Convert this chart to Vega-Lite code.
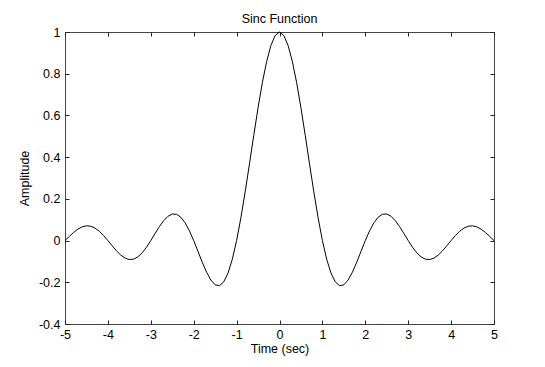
{
  "$schema": "https://vega.github.io/schema/vega-lite/v6.json",
  "width": 429,
  "height": 292,
  "autosize": "none",
  "padding": {"left": 65, "top": 32, "right": 51, "bottom": 43},
  "background": "white",
  "config": {
    "view": {"stroke": "#444", "strokeWidth": 1},
    "font": "Liberation Sans",
    "axis": {
      "domain": false,
      "grid": false,
      "tickSize": -4,
      "tickColor": "#222",
      "labelFont": "Liberation Sans",
      "labelFontSize": 12.5,
      "labelColor": "#000",
      "titleFont": "Liberation Sans",
      "titleFontSize": 12.5,
      "titleFontWeight": "normal",
      "titleColor": "#000"
    },
    "title": {"font": "Liberation Sans", "fontSize": 12.5, "fontWeight": "normal", "color": "#000", "offset": 1}
  },
  "title": {"text": "Sinc Function"},
  "data": {"values": [
    {"t": -5.0, "y": 0},
    {"t": -4.9, "y": 0.020074},
    {"t": -4.8, "y": 0.038979},
    {"t": -4.7, "y": 0.054791},
    {"t": -4.6, "y": 0.065811},
    {"t": -4.5, "y": 0.070736},
    {"t": -4.4, "y": 0.068802},
    {"t": -4.3, "y": 0.059888},
    {"t": -4.2, "y": 0.044547},
    {"t": -4.1, "y": 0.023991},
    {"t": -4.0, "y": 0},
    {"t": -3.9, "y": -0.025221},
    {"t": -3.8, "y": -0.049236},
    {"t": -3.7, "y": -0.0696},
    {"t": -3.6, "y": -0.084092},
    {"t": -3.5, "y": -0.090946},
    {"t": -3.4, "y": -0.089038},
    {"t": -3.3, "y": -0.078036},
    {"t": -3.2, "y": -0.058468},
    {"t": -3.1, "y": -0.03173},
    {"t": -3.0, "y": 0},
    {"t": -2.9, "y": 0.033918},
    {"t": -2.8, "y": 0.066821},
    {"t": -2.7, "y": 0.095377},
    {"t": -2.6, "y": 0.116435},
    {"t": -2.5, "y": 0.127324},
    {"t": -2.4, "y": 0.126138},
    {"t": -2.3, "y": 0.111964},
    {"t": -2.2, "y": 0.085045},
    {"t": -2.1, "y": 0.04684},
    {"t": -2.0, "y": 0},
    {"t": -1.9, "y": -0.05177},
    {"t": -1.8, "y": -0.103943},
    {"t": -1.7, "y": -0.151481},
    {"t": -1.6, "y": -0.189207},
    {"t": -1.5, "y": -0.212207},
    {"t": -1.4, "y": -0.216236},
    {"t": -1.3, "y": -0.198091},
    {"t": -1.2, "y": -0.155915},
    {"t": -1.1, "y": -0.089421},
    {"t": -1.0, "y": 0},
    {"t": -0.9, "y": 0.109292},
    {"t": -0.8, "y": 0.233872},
    {"t": -0.7, "y": 0.367883},
    {"t": -0.6, "y": 0.504551},
    {"t": -0.5, "y": 0.63662},
    {"t": -0.4, "y": 0.756827},
    {"t": -0.3, "y": 0.858394},
    {"t": -0.2, "y": 0.935489},
    {"t": -0.1, "y": 0.983632},
    {"t": 0.0, "y": 1},
    {"t": 0.1, "y": 0.983632},
    {"t": 0.2, "y": 0.935489},
    {"t": 0.3, "y": 0.858394},
    {"t": 0.4, "y": 0.756827},
    {"t": 0.5, "y": 0.63662},
    {"t": 0.6, "y": 0.504551},
    {"t": 0.7, "y": 0.367883},
    {"t": 0.8, "y": 0.233872},
    {"t": 0.9, "y": 0.109292},
    {"t": 1.0, "y": 0},
    {"t": 1.1, "y": -0.089421},
    {"t": 1.2, "y": -0.155915},
    {"t": 1.3, "y": -0.198091},
    {"t": 1.4, "y": -0.216236},
    {"t": 1.5, "y": -0.212207},
    {"t": 1.6, "y": -0.189207},
    {"t": 1.7, "y": -0.151481},
    {"t": 1.8, "y": -0.103943},
    {"t": 1.9, "y": -0.05177},
    {"t": 2.0, "y": 0},
    {"t": 2.1, "y": 0.04684},
    {"t": 2.2, "y": 0.085045},
    {"t": 2.3, "y": 0.111964},
    {"t": 2.4, "y": 0.126138},
    {"t": 2.5, "y": 0.127324},
    {"t": 2.6, "y": 0.116435},
    {"t": 2.7, "y": 0.095377},
    {"t": 2.8, "y": 0.066821},
    {"t": 2.9, "y": 0.033918},
    {"t": 3.0, "y": 0},
    {"t": 3.1, "y": -0.03173},
    {"t": 3.2, "y": -0.058468},
    {"t": 3.3, "y": -0.078036},
    {"t": 3.4, "y": -0.089038},
    {"t": 3.5, "y": -0.090946},
    {"t": 3.6, "y": -0.084092},
    {"t": 3.7, "y": -0.0696},
    {"t": 3.8, "y": -0.049236},
    {"t": 3.9, "y": -0.025221},
    {"t": 4.0, "y": 0},
    {"t": 4.1, "y": 0.023991},
    {"t": 4.2, "y": 0.044547},
    {"t": 4.3, "y": 0.059888},
    {"t": 4.4, "y": 0.068802},
    {"t": 4.5, "y": 0.070736},
    {"t": 4.6, "y": 0.065811},
    {"t": 4.7, "y": 0.054791},
    {"t": 4.8, "y": 0.038979},
    {"t": 4.9, "y": 0.020074},
    {"t": 5.0, "y": 0}
  ]},
  "layer": [
    {
      "mark": {"type": "line", "color": "#000", "strokeWidth": 1},
      "encoding": {
        "x": {"field": "t", "type": "quantitative", "title": "Time (sec)",
              "scale": {"domain": [-5, 5], "nice": false, "zero": false},
              "axis": {"orient": "bottom", "values": [-5, -4, -3, -2, -1, 0, 1, 2, 3, 4, 5], "labelExpr": "'' + datum.value", "labelPadding": 8, "titlePadding": 2, "labelFlush": false}},
        "y": {"field": "y", "type": "quantitative", "title": "Amplitude",
              "scale": {"domain": [-0.4, 1], "nice": false, "zero": false},
              "axis": {"orient": "left", "values": [-0.4, -0.2, 0, 0.2, 0.4, 0.6, 0.8, 1], "labelExpr": "'' + datum.value", "labelPadding": 9, "titlePadding": 7, "labelFlush": false}}
      }
    },
    {
      "mark": {"type": "line", "opacity": 0},
      "encoding": {
        "x": {"field": "t", "type": "quantitative",
              "scale": {"domain": [-5, 5], "nice": false, "zero": false},
              "axis": {"orient": "top", "values": [-5, -4, -3, -2, -1, 0, 1, 2, 3, 4, 5], "labels": false, "title": null}},
        "y": {"field": "y", "type": "quantitative",
              "scale": {"domain": [-0.4, 1], "nice": false, "zero": false},
              "axis": {"orient": "right", "values": [-0.4, -0.2, 0, 0.2, 0.4, 0.6, 0.8, 1], "labels": false, "title": null}}
      }
    }
  ],
  "resolve": {"axis": {"x": "independent", "y": "independent"}}
}
